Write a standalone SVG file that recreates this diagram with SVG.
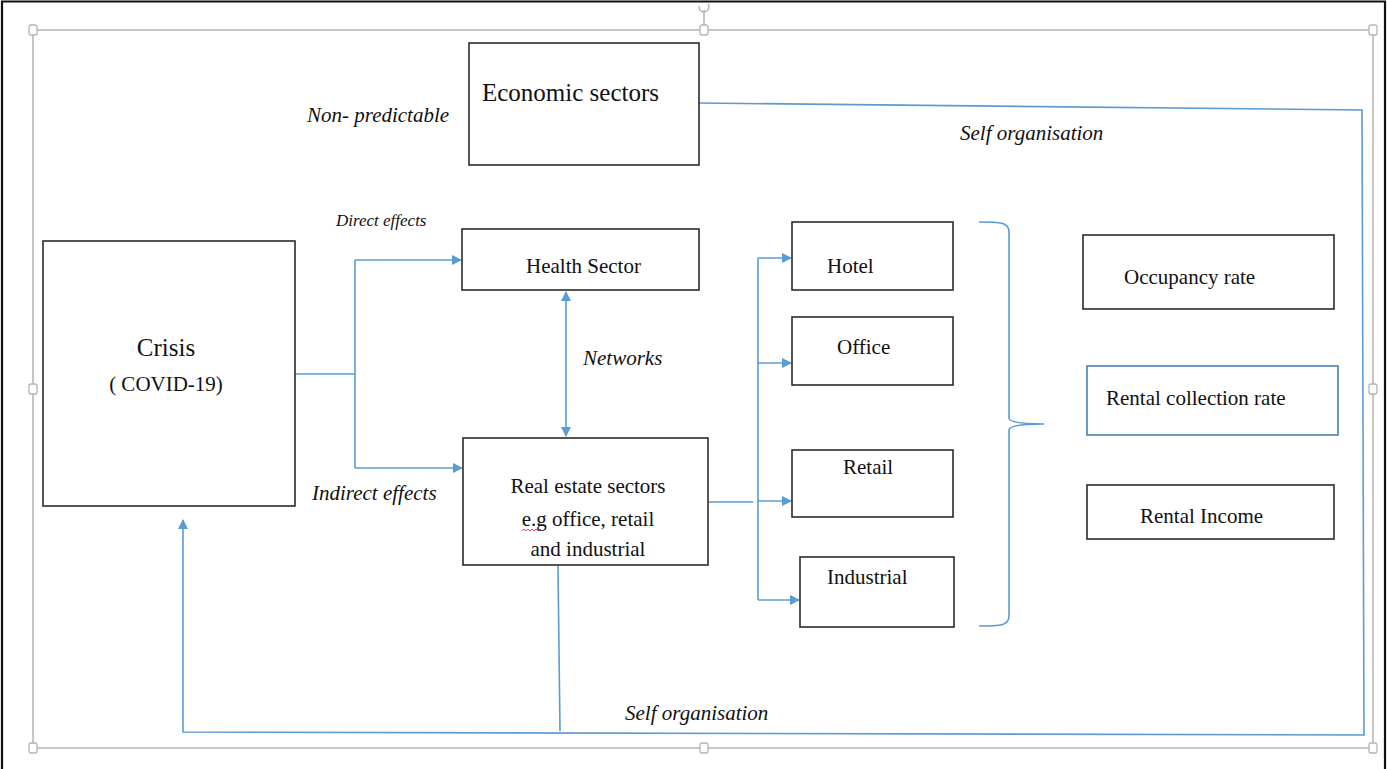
<svg xmlns="http://www.w3.org/2000/svg" width="1387" height="769" viewBox="0 0 1387 769">
<style>
.box{fill:#fff;stroke:#2b2b2b;stroke-width:1.6}
.t{font-family:"Liberation Serif","Times New Roman","DejaVu Serif",serif;font-size:21px;fill:#111}
.it{font-family:"Liberation Serif","Times New Roman","DejaVu Serif",serif;font-style:italic;font-size:21px;fill:#111}
.big{font-size:25px}
.sm{font-size:17px}
.c{fill:none;stroke:#5b9bd5;stroke-width:1.6}
.sel{fill:none;stroke:#b4b4b4;stroke-width:1.5}
.h{fill:#fff;stroke:#b4b4b4;stroke-width:1.3}
</style>
<defs>
<marker id="ah" viewBox="0 0 10 10" refX="9" refY="5" markerWidth="10" markerHeight="10" markerUnits="userSpaceOnUse" orient="auto-start-reverse">
<path d="M0,0 L10,5 L0,10 Z" fill="#5b9bd5"/>
</marker>
</defs>
<rect width="1387" height="769" fill="#fff"/>
<g id="frame">
<path d="M2,769 V1.5 H1385 V769" fill="none" stroke="#111" stroke-width="2.2"/>
<rect class="sel" x="33" y="30" width="1340" height="718"/>
<line class="sel" x1="704" y1="10" x2="704" y2="30"/>
<path d="M699,6 a5,5 0 1 0 9,-2" fill="none" stroke="#b4b4b4" stroke-width="1.5"/>
<rect class="h" x="29" y="25" width="8" height="10" rx="2"/>
<rect class="h" x="700" y="25" width="8" height="10" rx="2"/>
<rect class="h" x="1369" y="25" width="8" height="10" rx="2"/>
<rect class="h" x="29" y="384" width="8" height="10" rx="2"/>
<rect class="h" x="1369" y="384" width="8" height="10" rx="2"/>
<rect class="h" x="29" y="743" width="8" height="10" rx="2"/>
<rect class="h" x="700" y="743" width="8" height="10" rx="2"/>
<rect class="h" x="1369" y="743" width="8" height="10" rx="2"/>
</g>
<g id="connectors">
<path class="c" d="M699,103 L1362,110 L1364,735 L183,732 L183,520" marker-end="url(#ah)"/>
<path class="c" d="M558,566 L560,731"/>
<path class="c" d="M295,374 H355"/>
<path class="c" d="M355,260 V468"/>
<path class="c" d="M355,260 H461" marker-end="url(#ah)"/>
<path class="c" d="M355,468 H462" marker-end="url(#ah)"/>
<path class="c" d="M566,292 V436" marker-start="url(#ah)" marker-end="url(#ah)"/>
<path class="c" d="M708,502 H753"/>
<path class="c" d="M758,258 V600"/>
<path class="c" d="M758,258 H791" marker-end="url(#ah)"/>
<path class="c" d="M758,363 H791" marker-end="url(#ah)"/>
<path class="c" d="M758,501 H791" marker-end="url(#ah)"/>
<path class="c" d="M758,600 H799" marker-end="url(#ah)"/>
<path class="c" d="M979,222 C1000,222 1009,222 1009,232 V418 C1009,421 1015,424 1044,424 C1015,424 1009,427 1009,430 V616 C1009,626 1000,626 979,626"/>
</g>
<g id="labels">
<text class="it" x="307" y="122">Non- predictable</text>
<text class="it" x="960" y="140">Self organisation</text>
<text class="it sm" x="336" y="226">Direct effects</text>
<text class="it" x="583" y="365">Networks</text>
<text class="it" x="312" y="500">Indirect effects</text>
<text class="it" x="625" y="720">Self organisation</text>
</g>
<g id="economic">
<rect class="box" x="469" y="43" width="230" height="122"/>
<text class="t big" x="482" y="101">Economic sectors</text>
</g>
<g id="crisis">
<rect class="box" x="43" y="241" width="252" height="265"/>
<text class="t big" x="166" y="356" text-anchor="middle">Crisis</text>
<text class="t" x="166" y="391" text-anchor="middle">( COVID-19)</text>
</g>
<g id="health">
<rect class="box" x="462" y="229" width="237" height="61"/>
<text class="t" x="526" y="273">Health Sector</text>
</g>
<g id="realestate">
<rect class="box" x="463" y="438" width="245" height="127"/>
<text class="t" x="588" y="493" text-anchor="middle">Real estate sectors</text>
<text class="t" x="588" y="526" text-anchor="middle">e.g office, retail</text>
<text class="t" x="588" y="556" text-anchor="middle">and industrial</text>
<path d="M522,531 l2,-2 l2,2 l2,-2 l2,2 l2,-2 l2,2 l2,-2 l2,2 l2,-2 l2,2" fill="none" stroke="#e03030" stroke-width="0.9"/>
</g>
<g id="hotel">
<rect class="box" x="792" y="222" width="161" height="68"/>
<text class="t" x="827" y="273">Hotel</text>
</g>
<g id="office">
<rect class="box" x="792" y="317" width="161" height="68"/>
<text class="t" x="837" y="354">Office</text>
</g>
<g id="retail">
<rect class="box" x="792" y="450" width="161" height="67"/>
<text class="t" x="843" y="474">Retail</text>
</g>
<g id="industrial">
<rect class="box" x="800" y="557" width="154" height="70"/>
<text class="t" x="827" y="584">Industrial</text>
</g>
<g id="occupancy">
<rect class="box" x="1083" y="235" width="251" height="74"/>
<text class="t" x="1124" y="284">Occupancy rate</text>
</g>
<g id="collection">
<rect class="box" x="1087" y="366" width="251" height="69" style="stroke:#4a7fb0"/>
<text class="t" x="1106" y="405">Rental collection rate</text>
</g>
<g id="income">
<rect class="box" x="1087" y="485" width="247" height="54"/>
<text class="t" x="1140" y="523">Rental Income</text>
</g>
</svg>
